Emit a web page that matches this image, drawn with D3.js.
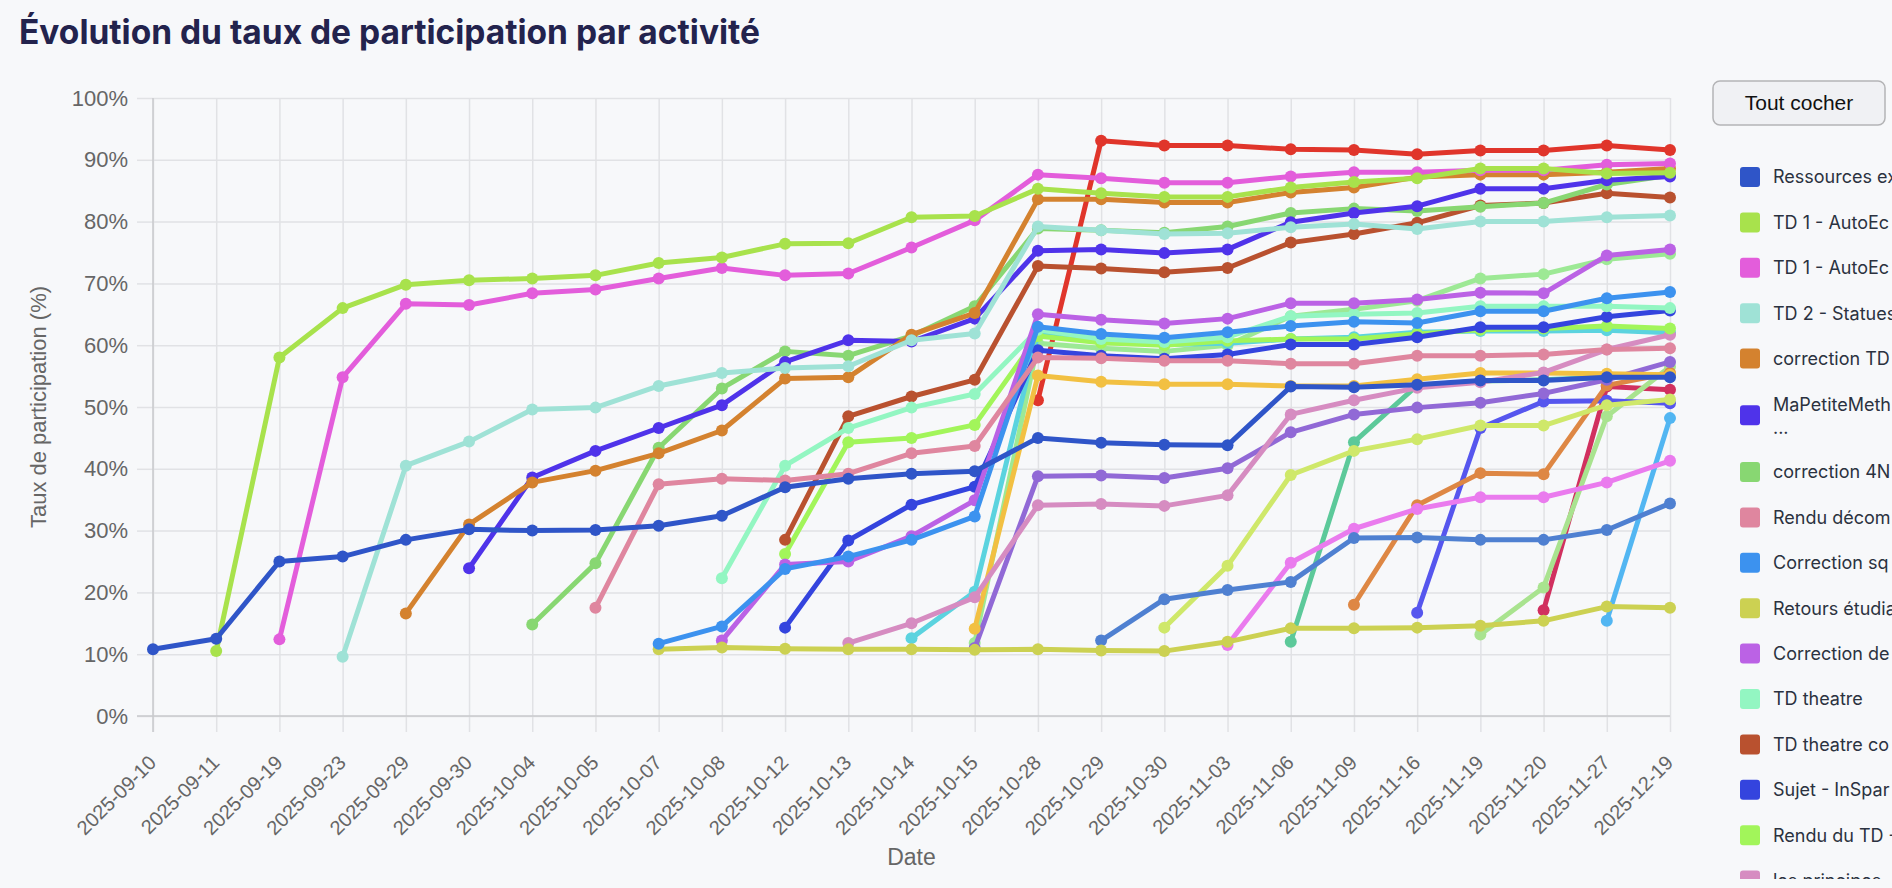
<!DOCTYPE html>
<html lang="fr">
<head>
<meta charset="utf-8">
<title>Évolution du taux de participation par activité</title>
<script src="https://cdn.jsdelivr.net/npm/d3@7"></script>
<style>
  html, body { margin: 0; padding: 0; background: #f7f8fa; overflow: hidden; }
  svg { display: block; }
</style>
</head>
<body>
<script>
// dates on the x axis
const dates = ["2025-09-10","2025-09-11","2025-09-19","2025-09-23","2025-09-29","2025-09-30",
  "2025-10-04","2025-10-05","2025-10-07","2025-10-08","2025-10-12","2025-10-13","2025-10-14",
  "2025-10-15","2025-10-28","2025-10-29","2025-10-30","2025-11-03","2025-11-06","2025-11-09",
  "2025-11-16","2025-11-19","2025-11-20","2025-11-27","2025-12-19"]

const yTicks = [0, 10, 20, 30, 40, 50, 60, 70, 80, 90, 100]

// legend labels as far as they are visible (the legend is cut on the right)
const legendLabels = ["Ressources ex", "TD 1 - AutoEc", "TD 1 - AutoEc", "TD 2 - Statues",
  "correction TD", "MaPetiteMeth", "correction 4N", "Rendu décom", "Correction sq",
  "Retours étudia", "Correction de", "TD theatre", "TD theatre co", "Sujet - InSpar",
  "Rendu du TD -", "les principes -"]

const seriesColors = ["#2f55c8", "#a8e24c", "#e35ddb", "#9fe2d6", "#d4822f", "#4f33ea",
  "#88d772", "#df869f", "#3c92ef", "#ccd152", "#bb62e5", "#93f6c2", "#b9512f", "#3444de",
  "#a2f55a", "#d68cc1", "#5bd3df", "#f2c042", "#9169d6", "#9de995", "#e0352b", "#4f80d1",
  "#cfe86a", "#ea7bee", "#5cc99a", "#de8744", "#5656ee", "#a9e38f", "#d1305f", "#52b6f2"]

// participation (%) per date, null = no value yet
const _ = null
const s01 = [10.8,12.5,25.0,25.8,28.5,30.2,30.0,30.1,30.8,32.4,37.0,38.4,39.2,39.6,45.0,44.2,43.9,43.8,53.3,53.2,53.6,54.3,54.3,54.8,54.8]
const s02 = [_,10.5,58.0,66.0,69.8,70.5,70.8,71.3,73.3,74.2,76.4,76.5,80.7,80.9,85.3,84.6,84.0,84.0,85.5,86.4,87.0,88.6,88.6,87.8,87.9]
const s03 = [_,_,12.4,54.8,66.7,66.5,68.4,69.0,70.8,72.5,71.3,71.6,75.8,80.2,87.6,87.0,86.3,86.3,87.3,88.0,88.0,88.3,88.3,89.2,89.4]
const s04 = [_,_,_,9.6,40.5,44.4,49.6,49.9,53.4,55.5,56.3,56.6,60.8,61.9,79.2,78.6,78.0,78.1,79.1,79.6,78.8,80.0,80.0,80.7,81.0]
const s05 = [_,_,_,_,16.6,31.0,37.8,39.7,42.5,46.2,54.6,54.8,61.7,65.2,83.6,83.6,83.1,83.1,84.7,85.5,87.2,87.6,87.6,88.0,88.6]
const s06 = [_,_,_,_,_,23.9,38.6,42.9,46.6,50.3,57.3,60.8,60.6,64.3,75.3,75.5,74.9,75.5,79.9,81.4,82.5,85.3,85.3,86.7,87.3]
const s07 = [_,_,_,_,_,_,14.8,24.7,43.4,53.0,59.0,58.3,61.5,66.3,78.9,78.6,78.2,79.2,81.4,82.1,81.7,82.4,83.0,86.0,87.5]
const s08 = [_,_,_,_,_,_,_,17.5,37.5,38.4,38.1,39.2,42.5,43.7,58.0,57.9,57.5,57.5,57.0,57.0,58.3,58.3,58.5,59.3,59.5]
const s09 = [_,_,_,_,_,_,_,_,11.7,14.5,23.8,25.8,28.5,32.3,63.0,61.8,61.2,62.1,63.1,63.8,63.6,65.5,65.5,67.6,68.6]
const s10 = [_,_,_,_,_,_,_,_,10.8,11.1,10.9,10.8,10.8,10.7,10.8,10.6,10.5,12.0,14.2,14.2,14.3,14.6,15.4,17.7,17.5]
const s11 = [_,_,_,_,_,_,_,_,_,12.2,24.5,25.0,29.1,34.9,65.0,64.1,63.5,64.3,66.8,66.8,67.4,68.5,68.4,74.5,75.5]
const s12 = [_,_,_,_,_,_,_,_,_,22.3,40.5,46.6,49.9,52.1,62.5,61.0,60.5,61.3,64.7,65.0,65.2,66.3,66.3,66.3,66.0]
const s13 = [_,_,_,_,_,_,_,_,_,_,28.5,48.5,51.7,54.4,72.8,72.4,71.8,72.5,76.6,78.0,79.8,82.6,83.0,84.6,83.9]
const s14 = [_,_,_,_,_,_,_,_,_,_,14.3,28.4,34.2,37.1,59.2,58.3,57.8,58.5,60.1,60.1,61.3,62.9,62.9,64.6,65.6]
const s15 = [_,_,_,_,_,_,_,_,_,_,26.2,44.3,45.0,47.1,61.5,60.4,60.0,60.7,61.0,61.0,61.8,62.5,62.7,63.1,62.7]
const s16 = [_,_,_,_,_,_,_,_,_,_,_,11.8,15.0,19.2,34.1,34.3,34.0,35.7,48.8,51.1,53.1,54.0,55.6,59.3,61.7]
const s17 = [_,_,_,_,_,_,_,_,_,_,_,_,12.6,20.1,61.8,60.6,60.1,60.3,61.0,61.3,62.1,62.3,62.3,62.4,62.0]
const s18 = [_,_,_,_,_,_,_,_,_,_,_,_,_,14.1,55.1,54.1,53.7,53.7,53.4,53.4,54.5,55.5,55.5,55.4,55.2]
const s19 = [_,_,_,_,_,_,_,_,_,_,_,_,_,11.0,38.8,38.9,38.5,40.1,45.9,48.8,49.9,50.7,52.2,54.4,57.3]
const s20 = [_,_,_,_,_,_,_,_,_,_,_,_,_,11.8,60.3,59.5,59.0,60.0,64.7,65.8,67.2,70.8,71.5,73.9,74.8]
const s21 = [_,_,_,_,_,_,_,_,_,_,_,_,_,_,51.1,93.1,92.3,92.3,91.7,91.6,90.9,91.5,91.5,92.3,91.6]
const s22 = [_,_,_,_,_,_,_,_,_,_,_,_,_,_,_,12.2,18.9,20.4,21.7,28.8,28.9,28.5,28.5,30.1,34.4]
const s23 = [_,_,_,_,_,_,_,_,_,_,_,_,_,_,_,_,14.3,24.3,39.0,42.9,44.8,47.0,47.0,50.3,51.2]
const s24 = [_,_,_,_,_,_,_,_,_,_,_,_,_,_,_,_,_,11.5,24.8,30.3,33.5,35.4,35.4,37.8,41.3]
const s25 = [_,_,_,_,_,_,_,_,_,_,_,_,_,_,_,_,_,_,12.0,44.3,53.5,54.2,54.4,54.8,55.0]
const s26 = [_,_,_,_,_,_,_,_,_,_,_,_,_,_,_,_,_,_,_,18.0,34.1,39.3,39.1,53.5,55.5]
const s27 = [_,_,_,_,_,_,_,_,_,_,_,_,_,_,_,_,_,_,_,_,16.7,46.6,50.9,51.0,50.6]
const s28 = [_,_,_,_,_,_,_,_,_,_,_,_,_,_,_,_,_,_,_,_,_,13.2,20.8,48.5,56.5]
const s29 = [_,_,_,_,_,_,_,_,_,_,_,_,_,_,_,_,_,_,_,_,_,_,17.1,53.3,52.8]
const s30 = [_,_,_,_,_,_,_,_,_,_,_,_,_,_,_,_,_,_,_,_,_,_,_,15.4,48.2]

const allSeries = [s01,s02,s03,s04,s05,s06,s07,s08,s09,s10,s11,s12,s13,s14,s15,
  s16,s17,s18,s19,s20,s21,s22,s23,s24,s25,s26,s27,s28,s29,s30]

const width = 1892, height = 888
const margin = {top: 98, right: 222, bottom: 172, left: 153}
const plotRight = width - margin.right, plotBottom = height - margin.bottom

const svg = d3.select('body').append('svg')
    .attr('width', width)
    .attr('height', height)

svg.append('rect').attr('width', width).attr('height', height).attr('fill', '#f7f8fa')

// title
svg.append('text')
    .attr('x', 19).attr('y', 44)
    .attr('font-family', 'Inter, sans-serif')
    .attr('font-weight', 700)
    .attr('font-size', 33.5)
    .attr('fill', '#23234d')
    .text('Évolution du taux de participation par activité')

const xScale = d3.scalePoint().domain(dates).range([margin.left, plotRight])
const yScale = d3.scaleLinear().domain([0, 100]).range([plotBottom, margin.top])

const gridColor = '#e1e2e5', axisColor = '#c9cacd', labelColor = '#666'

// horizontal grid
svg.append('g')
    .attr('transform', 'translate(' + margin.left + ',0)')
    .call(d3.axisLeft(yScale).tickValues(yTicks).tickSize(-(plotRight - margin.left)).tickFormat(''))
    .call(g => g.select('.domain').remove())
    .call(g => g.selectAll('line').attr('stroke', gridColor).attr('stroke-width', 1.5))

// vertical grid
svg.append('g')
    .attr('transform', 'translate(0,' + plotBottom + ')')
    .call(d3.axisBottom(xScale).tickSize(-(plotBottom - margin.top)).tickFormat(''))
    .call(g => g.select('.domain').remove())
    .call(g => g.selectAll('line').attr('stroke', gridColor).attr('stroke-width', 1.5))

// y axis ticks + labels
const yAxis = svg.append('g')
    .attr('transform', 'translate(' + margin.left + ',0)')
    .call(d3.axisLeft(yScale).tickValues(yTicks).tickSize(16).tickPadding(9).tickFormat(d => d + '%'))
yAxis.select('.domain').remove()
yAxis.selectAll('line').attr('stroke', gridColor).attr('stroke-width', 1.5)
yAxis.selectAll('text')
    .attr('font-family', 'Liberation Sans, Arial, sans-serif')
    .attr('font-size', 22)
    .attr('fill', labelColor)

// x axis ticks + rotated labels
const xAxis = svg.append('g')
    .attr('transform', 'translate(0,' + plotBottom + ')')
    .call(d3.axisBottom(xScale).tickSize(16))
xAxis.select('.domain').remove()
xAxis.selectAll('line').attr('stroke', gridColor).attr('stroke-width', 1.5)
xAxis.selectAll('text')
    .attr('y', 0).attr('dy', '0.35em')
    .attr('transform', 'translate(-1,43) rotate(-45)')
    .attr('text-anchor', 'end')
    .attr('font-family', 'Liberation Sans, Arial, sans-serif')
    .attr('font-size', 20)
    .attr('fill', labelColor)

// axis lines
svg.append('line')
    .attr('x1', margin.left).attr('x2', margin.left)
    .attr('y1', margin.top).attr('y2', plotBottom + 16)
    .attr('stroke', axisColor).attr('stroke-width', 1.5)
svg.append('line')
    .attr('x1', margin.left - 16).attr('x2', plotRight)
    .attr('y1', yScale(0)).attr('y2', yScale(0))
    .attr('stroke', axisColor).attr('stroke-width', 1.5)

// axis titles
svg.append('text')
    .attr('transform', 'translate(38,' + (margin.top + plotBottom) / 2 + ') rotate(-90)')
    .attr('text-anchor', 'middle').attr('dy', '0.35em')
    .attr('font-family', 'Liberation Sans, Arial, sans-serif')
    .attr('font-size', 22).attr('fill', labelColor)
    .text('Taux de participation (%)')

svg.append('text')
    .attr('x', (margin.left + plotRight) / 2).attr('y', 865)
    .attr('text-anchor', 'middle')
    .attr('font-family', 'Liberation Sans, Arial, sans-serif')
    .attr('font-size', 23).attr('fill', labelColor)
    .text('Date')

// lines, first series drawn last so it sits on top
const line = d3.line()
    .defined(d => d != null)
    .x((d, i) => xScale(dates[i]))
    .y(d => yScale(d))

const order = d3.range(allSeries.length).reverse()
order.forEach(k => {
    const vals = allSeries[k]
    const g = svg.append('g')
    g.append('path')
        .attr('d', line(vals))
        .attr('fill', 'none')
        .attr('stroke', seriesColors[k])
        .attr('stroke-width', 5)
        .attr('stroke-linejoin', 'round')
    g.selectAll('circle')
        .data(vals.map((v, i) => ({v, i})).filter(d => d.v != null))
        .enter()
        .append('circle')
        .attr('cx', d => xScale(dates[d.i]))
        .attr('cy', d => yScale(d.v))
        .attr('r', 6)
        .attr('fill', seriesColors[k])
})

// legend
const legend = svg.append('g')
svg.append('clipPath').attr('id', 'legclip')
    .append('rect').attr('x', 1700).attr('y', 140).attr('width', 192).attr('height', 739)

legend.append('rect')
    .attr('x', 1713).attr('y', 81).attr('width', 172).attr('height', 44).attr('rx', 7)
    .attr('fill', '#f0f1f4').attr('stroke', '#b4b4b6').attr('stroke-width', 1.5)
legend.append('text')
    .attr('x', 1799).attr('y', 103).attr('dy', '0.35em')
    .attr('text-anchor', 'middle')
    .attr('font-family', 'Liberation Sans, Arial, sans-serif')
    .attr('font-size', 21).attr('fill', '#111')
    .text('Tout cocher')

const items = legend.append('g').attr('clip-path', 'url(#legclip)')
legendLabels.forEach((name, i) => {
    const cy = 177 + i * 45.4 + (i === 5 ? 11.3 : i > 5 ? 22.6 : 0)
    items.append('rect')
        .attr('x', 1740).attr('y', cy - 10).attr('width', 20).attr('height', 20).attr('rx', 3)
        .attr('fill', seriesColors[i])
    const t = items.append('text')
        .attr('x', 1773)
        .attr('font-family', 'Inter, sans-serif')
        .attr('font-size', 18).attr('fill', '#2b3240')
    if (i === 5) {
        t.append('tspan').attr('x', 1773).attr('y', cy - 11).attr('dy', '0.35em').text(name)
        t.append('tspan').attr('x', 1773).attr('y', cy + 12).attr('dy', '0.35em').text('...')
    } else {
        t.attr('y', cy).attr('dy', '0.35em').text(name)
    }
})
</script>
</body>
</html>
